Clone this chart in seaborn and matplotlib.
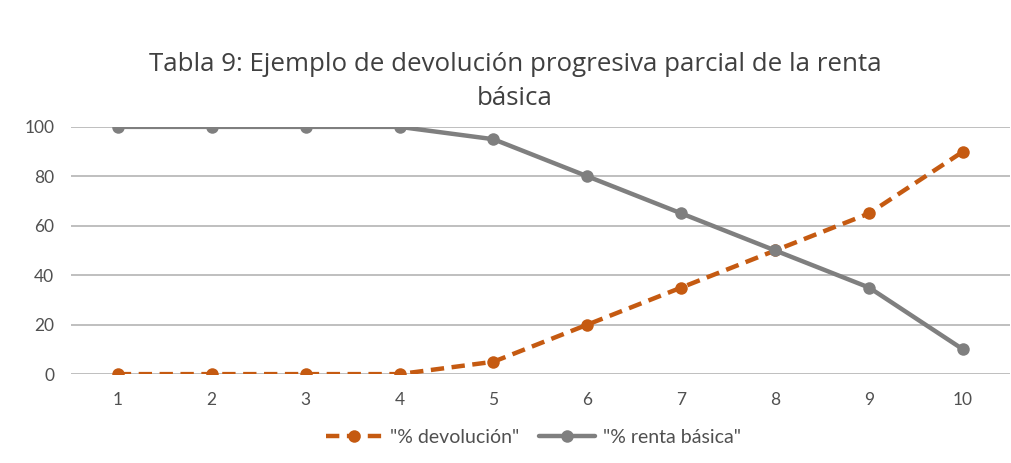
import pandas as pd
import matplotlib
matplotlib.use("Agg")
import matplotlib.pyplot as plt
import seaborn as sns

# =========================
# DATA
# =========================
pasos = [1, 2, 3, 4, 5, 6, 7, 8, 9, 10]
devolucion = [0, 0, 0, 0, 5, 20, 35, 50, 65, 90]
renta_basica = [100, 100, 100, 100, 95, 80, 65, 50, 35, 10]
y_ticks = [0, 20, 40, 60, 80, 100]

df = pd.DataFrame({
    "paso": pasos * 2,
    "valor": devolucion + renta_basica,
    "serie": ['"% devolución"'] * len(pasos) + ['"% renta básica"'] * len(pasos),
})

# =========================
# STYLE
# =========================
sns.set_theme(style="white")
plt.rcParams["font.family"] = ["Lato", "DejaVu Sans"]

naranja = "#C55A11"
gris = "#7F7F7F"

fig = plt.figure(figsize=(10.12, 4.63), dpi=100)
ax = fig.add_axes([0.070, 0.192, 0.928, 0.534])

sns.lineplot(
    data=df, x="paso", y="valor", hue="serie", style="serie",
    palette=[naranja, gris],
    dashes=[(3.0, 1.7), ""],
    markers=["o", "o"],
    markersize=9, linewidth=3.2, markeredgewidth=0,
    ax=ax, legend=True,
)

ax.set_xlim(0.5, 10.5)
ax.set_ylim(0, 100)
ax.set_xticks(pasos)
ax.set_yticks(y_ticks)
ax.tick_params(axis="both", labelsize=12.5, colors="#505050", length=0)
ax.tick_params(axis="y", pad=12)
ax.tick_params(axis="x", pad=13)
ax.grid(axis="y", color="#BFBFBF", linewidth=1.4)
ax.grid(axis="x", visible=False)
ax.set_axisbelow(True)
for s in ax.spines.values():
    s.set_visible(False)
ax.set_xlabel("")
ax.set_ylabel("")

handles, labels = ax.get_legend_handles_labels()
ax.get_legend().remove()
fig.legend(
    handles, labels, loc="center", bbox_to_anchor=(0.527, 0.055), ncol=2,
    frameon=False, fontsize=14, labelcolor="#505050",
    handlelength=2.9, columnspacing=1.0, handletextpad=0.4,
)

fig.text(
    0.509, 0.761,
    "Tabla 9: Ejemplo de devolución progresiva parcial de la renta\nbásica",
    ha="center", va="bottom", fontsize=18.6, color="#404040",
    family=["Open Sans", "DejaVu Sans"], linespacing=1.45,
)

fig.savefig("out.png", dpi=100, facecolor="white")
